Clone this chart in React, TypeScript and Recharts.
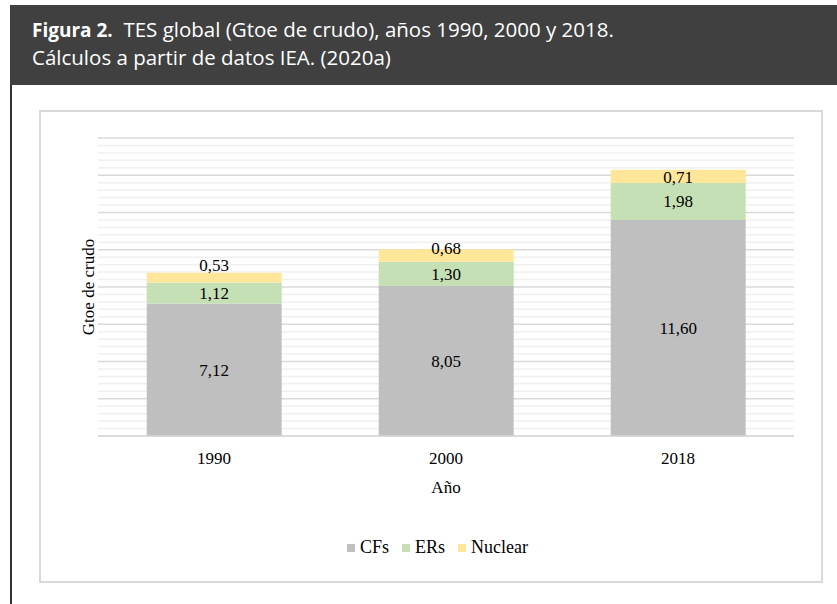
import { Bar, BarChart, LabelList, ReferenceLine, XAxis, YAxis } from "recharts";

const years = ["1990", "2000", "2018"];
const cfs = [7.12, 8.05, 11.6];
const ers = [1.12, 1.3, 1.98];
const nuclear = [0.53, 0.68, 0.71];

const majorTicks = [0, 2, 4, 6, 8, 10, 12, 14, 16];
const minorTicks = majorTicks.flatMap((t) => [t + 0.4, t + 0.8, t + 1.2, t + 1.6]).filter((t) => t < 16);

const seriesInfo = [
    { key: "CFs", color: "#bfbfbf" },
    { key: "ERs", color: "#c5e0b4" },
    { key: "Nuclear", color: "#ffe699" },
];

const data = years.map((y, i) => ({
    anio: y,
    CFs: cfs[i],
    ERs: ers[i],
    Nuclear: nuclear[i],
}));

const serif = "'Liberation Serif', 'Times New Roman', serif";
const fs = 17;
const fmt = (v: any) => Number(v).toFixed(2).replace(".", ",");
const chartMargin = { top: 138, right: 43, bottom: 108, left: 68 };

function CenterLabel(props: any) {
    const { x, y, width, height, value } = props;
    return (
        <text x={x + width / 2} y={y + height / 2} dy="0.35em" textAnchor="middle" fontFamily={serif} fontSize={fs} fill="#000">
            {fmt(value)}
        </text>
    );
}

// los dos primeros no caben en la barra, van encima
function NuclearLabel(props: any) {
    const { x, y, width, height, value, index } = props;
    const cy = index === 2 ? y + height / 2 + 1 : index === 0 ? y - 8 : y - 1;
    return (
        <text x={x + width / 2} y={cy} dy="0.35em" textAnchor="middle" fontFamily={serif} fontSize={fs} fill="#000">
            {fmt(value)}
        </text>
    );
}

function MiLeyenda() {
    return (
        <div style={{ display: "flex", justifyContent: "center", alignItems: "center", fontFamily: serif, fontSize: 18, color: "#000" }}>
            {seriesInfo.map((s, i) => (
                <div key={s.key} style={{ display: "flex", alignItems: "center", marginLeft: i === 0 ? 0 : 13 }}>
                    <span style={{ display: "inline-block", width: 8, height: 8, background: s.color, marginRight: 5 }} />
                    <span>{s.key}</span>
                </div>
            ))}
        </div>
    );
}

// ejes iguales en las dos capas
function ejes(conTexto: boolean) {
    return [
        <XAxis
            key="x"
            dataKey="anio"
            axisLine={conTexto ? { stroke: "#d9d9d9", strokeWidth: 1.5 } : false}
            tickLine={false}
            tickMargin={10}
            tick={conTexto ? { fill: "#000", fontSize: fs, fontFamily: serif } : false}
            height={60}
            label={conTexto ? { value: "Año", position: "insideBottom", offset: 3, fill: "#000", fontSize: fs, fontFamily: serif } : undefined}
        />,
        <YAxis
            key="y"
            domain={[0, 16]}
            ticks={majorTicks}
            tick={false}
            axisLine={false}
            tickLine={false}
            width={30}
            label={
                conTexto
                    ? {
                          value: "Gtoe de crudo",
                          angle: -90,
                          position: "insideLeft",
                          offset: 20,
                          fill: "#000",
                          fontSize: fs,
                          fontFamily: serif,
                          style: { textAnchor: "middle" },
                      }
                    : undefined
            }
        />,
    ];
}

export default function App() {
    return (
        <div style={{ position: "absolute", left: 0, top: 0, width: 837, height: 604, background: "#fff", overflow: "hidden" }}>
            <div
                style={{
                    position: "absolute",
                    left: 10,
                    top: 5,
                    width: 827,
                    height: 80,
                    background: "#404040",
                    color: "#fff",
                    fontFamily: "'Open Sans', 'Noto Sans', sans-serif",
                    fontSize: 20.5,
                    lineHeight: "27px",
                    boxSizing: "border-box",
                    padding: "11px 0 0 22px",
                }}
            >
                <div>
                    <b style={{ fontSize: 19 }}>Figura 2.</b>&nbsp; TES global (Gtoe de crudo), años 1990, 2000 y 2018.
                </div>
                <div>Cálculos a partir de datos IEA. (2020a)</div>
            </div>
            <div style={{ position: "absolute", left: 10, top: 85, width: 2, height: 519, background: "#333" }} />
            <div
                style={{
                    position: "absolute",
                    left: 39,
                    top: 110,
                    width: 784,
                    height: 473,
                    border: "2px solid #d9d9d9",
                    boxSizing: "border-box",
                }}
            />
            {/* capa de fondo: líneas de cuadrícula */}
            <div style={{ position: "absolute", left: 0, top: 0 }}>
                <BarChart width={837} height={604} data={data} margin={chartMargin} barCategoryGap="21%">
                    {ejes(false)}
                    {seriesInfo.map((s) => (
                        <Bar key={s.key} dataKey={s.key} stackId="a" fill="none" isAnimationActive={false} />
                    ))}
                    {minorTicks.map((t) => (
                        <ReferenceLine key={"m" + t} y={t} stroke="#f0f0f0" strokeWidth={1.5} />
                    ))}
                    {majorTicks.map((t) => (
                        <ReferenceLine key={"M" + t} y={t} stroke="#d9d9d9" strokeWidth={1.5} />
                    ))}
                </BarChart>
            </div>
            {/* capa de barras */}
            <div style={{ position: "absolute", left: 0, top: 0 }}>
                <BarChart width={837} height={604} data={data} margin={chartMargin} barCategoryGap="21%">
                    {ejes(true)}
                    <Bar dataKey="CFs" stackId="a" fill="#bfbfbf" isAnimationActive={false}>
                        <LabelList dataKey="CFs" content={<CenterLabel />} />
                    </Bar>
                    <Bar dataKey="ERs" stackId="a" fill="#c5e0b4" isAnimationActive={false}>
                        <LabelList dataKey="ERs" content={<CenterLabel />} />
                    </Bar>
                    <Bar dataKey="Nuclear" stackId="a" fill="#ffe699" isAnimationActive={false}>
                        <LabelList dataKey="Nuclear" content={<NuclearLabel />} />
                    </Bar>
                </BarChart>
            </div>
            <div style={{ position: "absolute", left: 0, top: 537, width: 875 }}>
                <MiLeyenda />
            </div>
        </div>
    );
}
